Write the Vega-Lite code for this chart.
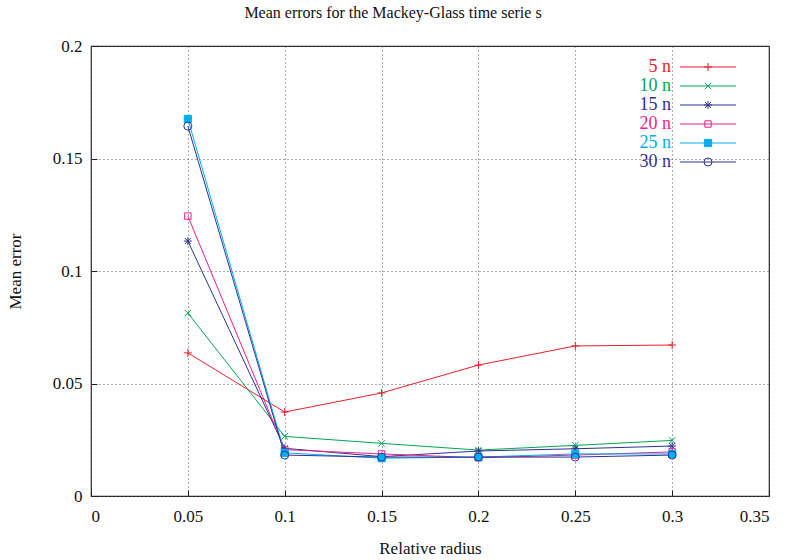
{
  "$schema": "https://vega.github.io/schema/vega-lite/v6.json",
  "autosize": {"type": "none"},
  "width": 678,
  "height": 450,
  "padding": {"left": 91, "top": 46, "right": 17, "bottom": 64},
  "background": "white",
  "title": {"text": "Mean errors for the Mackey-Glass time serie s", "font": "Liberation Serif", "fontSize": 16, "fontWeight": "normal", "color": "#111", "offset": 16, "dx": -37},
  "config": {
    "view": {"stroke": "#222", "strokeWidth": 1.2},
    "axis": {"labelFont": "Liberation Serif", "titleFont": "Liberation Serif", "labelFontSize": 17, "titleFontSize": 17, "titleFontWeight": "normal", "labelColor": "#111", "titleColor": "#111", "grid": true, "gridColor": "#555", "gridDash": [1, 3], "gridWidth": 1, "domain": false, "tickColor": "#222", "tickSize": -6}
  },
  "data": {"values": [
    {"r": 0.05, "e": 0.0636, "s": "5 n"}, {"r": 0.1, "e": 0.0373, "s": "5 n"}, {"r": 0.15, "e": 0.0458, "s": "5 n"}, {"r": 0.2, "e": 0.0582, "s": "5 n"}, {"r": 0.25, "e": 0.0667, "s": "5 n"}, {"r": 0.3, "e": 0.0671, "s": "5 n"},
    {"r": 0.05, "e": 0.0813, "s": "10 n"}, {"r": 0.1, "e": 0.0265, "s": "10 n"}, {"r": 0.15, "e": 0.0234, "s": "10 n"}, {"r": 0.2, "e": 0.0204, "s": "10 n"}, {"r": 0.25, "e": 0.0225, "s": "10 n"}, {"r": 0.3, "e": 0.0247, "s": "10 n"},
    {"r": 0.05, "e": 0.1133, "s": "15 n"}, {"r": 0.1, "e": 0.0212, "s": "15 n"}, {"r": 0.15, "e": 0.0175, "s": "15 n"}, {"r": 0.2, "e": 0.0200, "s": "15 n"}, {"r": 0.25, "e": 0.0210, "s": "15 n"}, {"r": 0.3, "e": 0.0222, "s": "15 n"},
    {"r": 0.05, "e": 0.1244, "s": "20 n"}, {"r": 0.1, "e": 0.0206, "s": "20 n"}, {"r": 0.15, "e": 0.0187, "s": "20 n"}, {"r": 0.2, "e": 0.0170, "s": "20 n"}, {"r": 0.25, "e": 0.0182, "s": "20 n"}, {"r": 0.3, "e": 0.0196, "s": "20 n"},
    {"r": 0.05, "e": 0.1676, "s": "25 n"}, {"r": 0.1, "e": 0.0192, "s": "25 n"}, {"r": 0.15, "e": 0.0168, "s": "25 n"}, {"r": 0.2, "e": 0.0173, "s": "25 n"}, {"r": 0.25, "e": 0.0187, "s": "25 n"}, {"r": 0.3, "e": 0.0187, "s": "25 n"},
    {"r": 0.05, "e": 0.1644, "s": "30 n"}, {"r": 0.1, "e": 0.0182, "s": "30 n"}, {"r": 0.15, "e": 0.0173, "s": "30 n"}, {"r": 0.2, "e": 0.0173, "s": "30 n"}, {"r": 0.25, "e": 0.0173, "s": "30 n"}, {"r": 0.3, "e": 0.0182, "s": "30 n"}
  ]},
  "encoding": {
    "x": {"field": "r", "type": "quantitative", "title": "Relative radius", "scale": {"domain": [0, 0.35], "nice": false, "zero": false}, "axis": {"values": [0, 0.05, 0.1, 0.15, 0.2, 0.25, 0.3, 0.35], "format": "~g", "labelPadding": 18, "titlePadding": 16}},
    "y": {"field": "e", "type": "quantitative", "title": "Mean error", "scale": {"domain": [0, 0.2], "nice": false}, "axis": {"values": [0, 0.05, 0.1, 0.15, 0.2], "format": "~g", "labelPadding": 15, "titlePadding": 28}}
  },
  "layer": [
    {"mark": {"type": "line", "strokeWidth": 1},
     "encoding": {
       "stroke": {"field": "s", "type": "nominal", "scale": {"domain": ["5 n", "10 n", "15 n", "20 n", "25 n", "30 n", " "], "range": ["#e8202a", "#00a651", "#2e3192", "#ec1e8c", "#00aeef", "#2e3192", "transparent"]},
         "legend": {"title": null, "orient": "none", "legendX": 608, "legendY": 12, "rowPadding": 1, "symbolSize": 64, "symbolType": "M-7,0H7", "symbolStrokeWidth": 1, "labelFont": "Liberation Serif", "labelFontSize": 18, "labelLimit": 200,
           "encode": {
             "labels": {"update": {"align": {"value": "right"}, "dx": {"value": -50}, "opacity": {"value": 1}, "fill": {"signal": "scale('stroke', datum.value)"}}}
           }}}
     }},
    {"mark": {"type": "point", "filled": false, "strokeWidth": 1, "opacity": 1, "size": 64},
     "encoding": {
       "color": {"field": "s", "type": "nominal", "scale": {"domain": ["5 n", "10 n", "15 n", "20 n", "25 n", "30 n"], "range": ["#e8202a", "#00a651", "#2e3192", "#ec1e8c", "#00aeef", "#2e3192"]},
         "legend": {
           "title": null, "orient": "none", "legendX": 608, "legendY": 12, "rowPadding": 1, "symbolSize": 64, "symbolStrokeWidth": 1,
           "labelFont": "Liberation Serif", "labelFontSize": 18, "labelLimit": 200, "labelOpacity": 0,
           "encode": {
             "labels": {"update": {"align": {"value": "right"}, "dx": {"value": -50}, "fill": {"signal": "scale('color', datum.value)"}}}
           }
         }},
       "shape": {"field": "s", "type": "nominal", "legend": null, "scale": {"domain": ["5 n", "10 n", "15 n", "20 n", "25 n", "30 n"], "range": ["M-1,0H1M0,-1V1", "M-0.8,-0.8L0.8,0.8M-0.8,0.8L0.8,-0.8", "M-1,0H1M0,-1V1M-0.75,-0.75L0.75,0.75M-0.75,0.75L0.75,-0.75", "M-0.8,-0.8H0.8V0.8H-0.8Z", "M-0.9,-0.9H0.9V0.9H-0.9Z", "circle"]}},
       "fill": {"field": "s", "type": "nominal", "legend": null, "scale": {"domain": ["5 n", "10 n", "15 n", "20 n", "25 n", "30 n"], "range": ["transparent", "transparent", "transparent", "transparent", "#00aeef", "transparent"]}}
     }}
  ]
}
